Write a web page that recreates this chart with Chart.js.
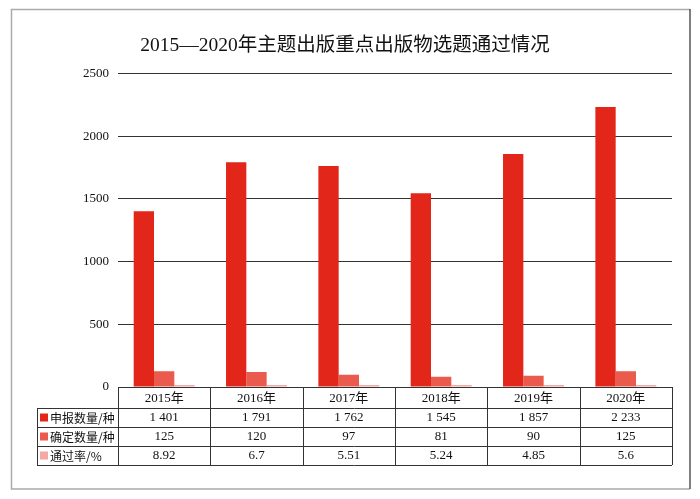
<!DOCTYPE html>
<html>
<head>
<meta charset="utf-8">
<script src="https://cdn.jsdelivr.net/npm/chart.js@4"></script>
<style>
  html, body { margin: 0; padding: 0; background: #fff; }
  #wrap { width: 700px; height: 499px; }
</style>
</head>
<body>
<div id="wrap"><canvas id="chart" width="700" height="499"></canvas></div>
<script>
// 数据
const years = ['2015年', '2016年', '2017年', '2018年', '2019年', '2020年'];
const shenbao = [1401, 1791, 1762, 1545, 1857, 2233];   // 申报数量/种
const queding = [125, 120, 97, 81, 90, 125];            // 确定数量/种
const tongguolv = [8.92, 6.7, 5.51, 5.24, 4.85, 5.6];   // 通过率/%
const seriesNames = ['申报数量/种', '确定数量/种', '通过率/%'];
const seriesColors = ['#E3261A', '#EA5A4D', '#F4A7A3'];
const yMax = 2500;
const yStep = 500;

const serif = "'Liberation Serif', 'Times New Roman', 'Noto Sans CJK SC', serif";
const sans = "'Noto Sans CJK SC', 'Noto Sans', sans-serif";

// 数字格式: 千位用空格分隔
function fmt(v) {
    if (v >= 1000) return String(v).replace(/\B(?=(\d{3})+(?!\d))/g, ' ');
    return String(v);
}

// 外框 + 底部数据表
const tablePlugin = {
    id: 'dataTable',
    afterDraw(chart) {
        const ctx = chart.ctx;
        const xs = chart.scales.x;
        const area = chart.chartArea;
        const n = years.length;
        const colW = (area.right - area.left) / n;
        const top = area.bottom;
        const rows = [top, top + 21, top + 40, top + 59, top + 78];
        const legendLeft = 37;
        const rowData = [shenbao, queding, tongguolv];

        ctx.save();
        // 外框
        ctx.lineWidth = 1.5;
        ctx.strokeStyle = '#aaaaaa';
        ctx.beginPath();
        ctx.moveTo(690, 9.5); ctx.lineTo(11.5, 9.5); ctx.lineTo(11.5, 489); ctx.lineTo(690, 489);
        ctx.stroke();
        ctx.strokeStyle = '#555555';
        ctx.beginPath();
        ctx.moveTo(690, 9); ctx.lineTo(690, 489);
        ctx.stroke();

        // 表格线
        ctx.lineWidth = 1;
        ctx.strokeStyle = '#333333';
        ctx.beginPath();
        ctx.moveTo(area.left, rows[0] + 0.5); ctx.lineTo(area.right, rows[0] + 0.5);
        for (let r = 1; r < rows.length; r++) {
            ctx.moveTo(legendLeft, rows[r] + 0.5); ctx.lineTo(area.right, rows[r] + 0.5);
        }
        for (let i = 0; i <= n; i++) {
            const x = Math.round(area.left + i * colW) + 0.5;
            ctx.moveTo(x, rows[0]); ctx.lineTo(x, rows[4]);
        }
        ctx.moveTo(legendLeft + 0.5, rows[1]); ctx.lineTo(legendLeft + 0.5, rows[4]);
        ctx.stroke();

        // 年份与数值
        ctx.fillStyle = '#111';
        ctx.textAlign = 'center';
        ctx.textBaseline = 'middle';
        ctx.font = '13px ' + serif;
        for (let i = 0; i < n; i++) {
            const cx = xs.getPixelForTick(i);
            ctx.fillText(years[i], cx, (rows[0] + rows[1]) / 2 + 1);
            for (let r = 0; r < 3; r++) {
                ctx.fillText(fmt(rowData[r][i]), cx, (rows[r + 1] + rows[r + 2]) / 2 + 0.5);
            }
        }

        // 图例列
        ctx.textAlign = 'left';
        ctx.font = '12px ' + sans;
        for (let r = 0; r < 3; r++) {
            const cy = (rows[r + 1] + rows[r + 2]) / 2;
            ctx.fillStyle = seriesColors[r];
            ctx.fillRect(legendLeft + 3, cy - 4, 8, 8);
            ctx.fillStyle = '#111';
            ctx.fillText(seriesNames[r], legendLeft + 13, cy + 0.5);
        }
        ctx.restore();
    }
};

const ctx = document.getElementById('chart').getContext('2d');
const chart = new Chart(ctx, {
    type: 'bar',
    data: {
        labels: years,
        datasets: [
            { label: seriesNames[0], data: shenbao, backgroundColor: seriesColors[0] },
            { label: seriesNames[1], data: queding, backgroundColor: seriesColors[1] },
            { label: seriesNames[2], data: tongguolv, backgroundColor: seriesColors[2], minBarLength: 2 }
        ]
    },
    options: {
        responsive: false,
        animation: false,
        categoryPercentage: 0.66,
        barPercentage: 1.0,
        layout: { padding: { top: 0, left: 18, right: 28, bottom: 112 } },
        plugins: {
            legend: { display: false },
            tooltip: { enabled: false },
            title: {
                display: true,
                text: '2015—2020年主题出版重点出版物选题通过情况',
                color: '#111',
                font: { family: serif, size: 19.5, weight: 'normal' },
                padding: { top: 34, bottom: 16 }
            }
        },
        scales: {
            x: {
                display: false
            },
            y: {
                min: 0,
                max: yMax,
                border: { display: false },
                grid: { color: '#333333', drawTicks: false, lineWidth: 1 },
                ticks: {
                    stepSize: yStep,
                    padding: 9,
                    color: '#111',
                    font: { family: serif, size: 13 },
                    callback: (v) => String(v)
                },
                afterFit(scale) { scale.width = 100; }
            }
        }
    },
    plugins: [tablePlugin]
});
</script>
</body>
</html>
